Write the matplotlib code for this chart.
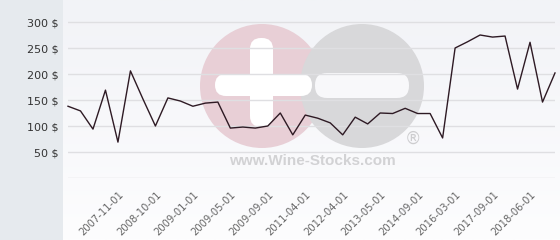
import matplotlib
matplotlib.use("Agg")
import matplotlib.pyplot as plt
import numpy as np
from matplotlib.patches import Circle, FancyBboxPatch
from matplotlib.transforms import ScaledTranslation
from matplotlib.colors import LinearSegmentedColormap

# ---- data ----
tick_dates = ["2007-11-01", "2008-10-01", "2009-01-01", "2009-05-01",
              "2009-09-01", "2011-04-01", "2012-04-01", "2013-05-01",
              "2014-09-01", "2016-03-01", "2017-09-01", "2018-06-01"]
tick_index = [4, 7, 10, 13, 16, 19, 22, 25, 28, 31, 34, 37]
prices = [138, 129, 94, 169, 69, 206, 152, 100, 154, 148,
          138, 144, 146, 96, 98, 96, 100, 125, 83, 121,
          115, 106, 83, 117, 104, 125, 124, 134, 124, 124,
          77, 250, 262, 275, 271, 273, 171, 261, 146, 202]
y_ticks = [0, 50, 100, 150, 200, 250, 300]
y_labels = ["", "50 $", "100 $", "150 $", "200 $", "250 $", "300 $"]

W, H = 560, 240
fig = plt.figure(figsize=(W / 100, H / 100), dpi=100)
fig.patch.set_facecolor("#e6eaee")

# background overlay in pixel coordinates
bg = fig.add_axes([0, 0, 1, 1], zorder=-5)
bg.set_xlim(0, W)
bg.set_ylim(H, 0)
bg.axis("off")
grad = np.linspace(0, 1, 100).reshape(-1, 1)
cmap = LinearSegmentedColormap.from_list("g", ["#f2f3f7", "#fdfdfe"])
bg.imshow(grad, cmap=cmap, extent=[63, W, H, 0], aspect="auto", zorder=0)

# watermark
bg.add_patch(Circle((262, 86), 62, color="#e8cfd6", zorder=1, lw=0))
bg.add_patch(Circle((362, 86), 62, color="#d8d8da", zorder=2, lw=0))
bg.add_patch(FancyBboxPatch((250, 38), 23, 89,
             boxstyle="round,pad=0,rounding_size=11", color="white", zorder=3, lw=0))
bg.add_patch(FancyBboxPatch((215, 74), 97, 22,
             boxstyle="round,pad=0,rounding_size=11", color="white", zorder=3, lw=0))
bg.add_patch(FancyBboxPatch((315, 73), 94, 25,
             boxstyle="round,pad=0,rounding_size=12", color="#f8f8fa", zorder=3, lw=0))
bg.text(413, 139, "®", fontsize=12, color="#cdcdcf", ha="center", va="center",
        zorder=4)
bg.text(312, 161, "www.Wine-Stocks.com", fontsize=11, color="#d2d2d4",
        ha="center", va="center", fontweight="bold", zorder=4,
        family="Liberation Sans")

# main axes
left, right = 68 / W, 555 / W
bottom_px, top_px = 178, 8
ax = fig.add_axes([left, 1 - bottom_px / H, right - left, (bottom_px - top_px) / H], zorder=1)
ax.set_facecolor("none")
ymax = 300 * (bottom_px - top_px) / (178 - 22)
ax.set_ylim(0, ymax)
x = np.arange(len(prices))
ax.set_xlim(0, len(prices) - 1)
ax.plot(x, prices, color="#2e1a24", lw=1.0, zorder=3, clip_on=False)

for s in ax.spines.values():
    s.set_visible(False)
ax.set_yticks(y_ticks)
ax.set_yticklabels(y_labels, fontsize=8, color="#333333")
ax.tick_params(axis="y", length=0, pad=6.5)
for yt in y_ticks:
    ax.axhline(yt, color="#dfdfe2", lw=1, zorder=1, xmin=0, xmax=1)

ax.set_xticks(tick_index)
ax.set_xticklabels(tick_dates, fontsize=7.2, color="#666666", rotation=45,
                   ha="right", va="center", rotation_mode="anchor")
ax.tick_params(axis="x", length=0, pad=11)
off = ScaledTranslation(4 / 100, 0, fig.dpi_scale_trans)
for lab in ax.get_xticklabels():
    lab.set_transform(lab.get_transform() + off)

fig.savefig("out.png", dpi=100)
